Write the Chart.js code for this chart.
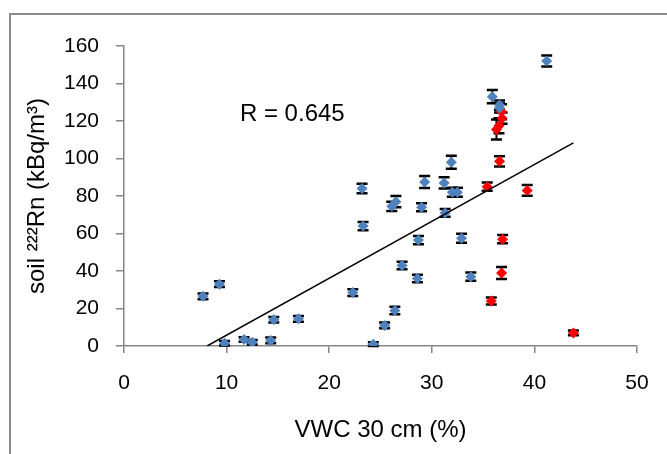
<!DOCTYPE html>
<html>
<head>
<meta charset="utf-8">
<script src="https://cdn.jsdelivr.net/npm/chart.js@4/dist/chart.umd.min.js"></script>
<style>
  html, body { margin: 0; padding: 0; background: #fff; }
  #wrap { width: 667px; height: 454px; }
</style>
</head>
<body>
<div id="wrap"><canvas id="myChart" width="667" height="454"></canvas></div>
<script>
// blue series (VWC %, Rn kBq/m3, error)
const blueX   = [7.7, 9.3, 9.8, 11.7, 12.5, 14.3, 14.6, 17.0, 22.3, 23.2, 23.3, 24.3, 25.4, 26.1, 26.5, 26.4, 27.1, 28.7, 28.6, 29.0, 29.3, 31.2, 31.3, 31.9, 32.0, 32.5, 32.9, 33.8, 35.9, 36.6, 36.6, 41.2];
const blueY   = [26.5, 33, 1.5, 3.5, 2, 3, 14, 14.5, 28.5, 84, 64, 1, 11, 74.5, 77, 19, 43, 56.5, 36, 74, 87.5, 87, 71, 98, 82, 82, 57.5, 37, 133, 128.5, 127, 152];
const blueErr = [1.5, 1.5, 1.2, 1.2, 1.2, 1.5, 1.5, 1.5, 1.8, 2.5, 2.2, 1, 1.5, 2.5, 3, 2, 2, 2.2, 2, 2.1, 3.2, 3, 2.1, 3.5, 2.4, 2.4, 2.4, 2.2, 3.5, 2.5, 2.5, 2.9];

// red series
const redX   = [35.4, 35.8, 36.6, 36.3, 36.55, 36.85, 36.8, 36.9, 36.8, 39.3, 43.8];
const redY   = [85, 24, 98.5, 115.5, 117.5, 121.5, 125, 57, 39, 83, 7];
const redErr = [2.2, 1.9, 2.7, 5.3, 4, 3, 4, 2.2, 3.2, 2.9, 1.3];

// linear fit end points
const trendX = [8.1, 43.8];
const trendY = [0, 108.3];

const rLabel = 'R = 0.645';
const rPos = [11.3, 123.7];

const FONT = "'Liberation Sans', Arial, sans-serif";
const AXIS_GRAY = '#868686';

const pts = (xs, ys) => xs.map((x, i) => ({ x: x, y: ys[i] }));

const errorBars = {
  id: 'errorBars',
  beforeDatasetsDraw(chart) {
    const ctx = chart.ctx;
    const xs = chart.scales.x, ys = chart.scales.y;
    const sets = [[blueX, blueY, blueErr], [redX, redY, redErr]];
    ctx.save();
    ctx.strokeStyle = '#000';
    sets.forEach(([X, Y, E]) => {
      X.forEach((x, i) => {
        const px = xs.getPixelForValue(x);
        const top = ys.getPixelForValue(Y[i] + E[i]);
        const bot = ys.getPixelForValue(Y[i] - E[i]);
        ctx.lineWidth = 2;
        ctx.beginPath();
        ctx.moveTo(px, top); ctx.lineTo(px, bot);
        ctx.stroke();
        ctx.lineWidth = 2.5;
        ctx.beginPath();
        ctx.moveTo(px - 5.5, top); ctx.lineTo(px + 5.5, top);
        ctx.moveTo(px - 5.5, bot); ctx.lineTo(px + 5.5, bot);
        ctx.stroke();
      });
    });
    ctx.restore();
  }
};

const extras = {
  id: 'extras',
  beforeDraw(chart) {
    const ctx = chart.ctx;
    ctx.save();
    ctx.fillStyle = '#fff';
    ctx.fillRect(0, 0, chart.width, chart.height);
    ctx.strokeStyle = '#8c8c8c';
    ctx.lineWidth = 2;
    ctx.beginPath();
    ctx.moveTo(10, chart.height);
    ctx.lineTo(10, 14);
    ctx.lineTo(chart.width, 14);
    ctx.stroke();
    ctx.restore();
  },
  afterDraw(chart) {
    const ctx = chart.ctx;
    ctx.save();
    ctx.font = '24px ' + FONT;
    ctx.fillStyle = '#000';
    ctx.textAlign = 'left';
    ctx.textBaseline = 'middle';
    ctx.fillText(rLabel, chart.scales.x.getPixelForValue(rPos[0]), chart.scales.y.getPixelForValue(rPos[1]));
    ctx.restore();
  }
};

const ctx = document.getElementById('myChart');

new Chart(ctx, {
  type: 'scatter',
  data: {
    datasets: [{
      type: 'line',
      data: pts(trendX, trendY),
      borderColor: '#000',
      borderWidth: 1.5,
      pointRadius: 0,
      fill: false
    }, {
      data: pts(blueX, blueY),
      backgroundColor: '#4f81bd',
      borderColor: '#4f81bd',
      pointStyle: 'rectRot',
      pointRadius: 5.5,
      borderWidth: 0
    }, {
      data: pts(redX, redY),
      backgroundColor: '#ff0000',
      borderColor: '#ff0000',
      pointStyle: 'rectRot',
      pointRadius: 5.5,
      borderWidth: 0
    }]
  },
  options: {
    responsive: false,
    animation: false,
    layout: { padding: { left: 10, top: 46, right: 30, bottom: 0 } },
    plugins: { legend: { display: false }, tooltip: { enabled: false } },
    scales: {
      x: {
        type: 'linear',
        min: 0, max: 50,
        afterFit: (s) => { s.height = 108; },
        border: { color: AXIS_GRAY, width: 1.5 },
        grid: { drawOnChartArea: false, color: AXIS_GRAY, tickLength: 7, lineWidth: 1.5 },
        ticks: { stepSize: 10, padding: 18, color: '#000', font: { family: FONT, size: 21 } },
        title: { display: true, text: 'VWC 30 cm (%)', color: '#000', padding: { top: 0, bottom: 9 }, font: { family: FONT, size: 24 } }
      },
      y: {
        min: 0, max: 160,
        afterFit: (s) => { s.width = 114; },
        border: { color: AXIS_GRAY, width: 1.5 },
        grid: { drawOnChartArea: false, color: AXIS_GRAY, tickLength: 8, lineWidth: 1.5 },
        ticks: { stepSize: 20, padding: 17, color: '#000', font: { family: FONT, size: 21 } },
        title: { display: true, text: 'soil \u00B2\u00B2\u00B2Rn (kBq/m\u00B3)', color: '#000', padding: { top: 13, bottom: 0 }, font: { family: FONT, size: 24 } }
      }
    }
  },
  plugins: [errorBars, extras]
});
</script>
</body>
</html>
